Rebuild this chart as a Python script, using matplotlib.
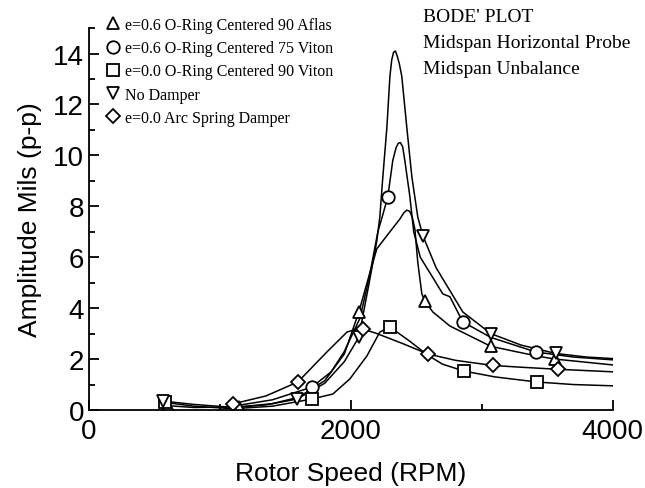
import matplotlib
matplotlib.use('Agg')
import matplotlib.pyplot as plt

# curve points (RPM, mils p-p)
aflas_x = [600, 800, 1145, 1400, 1600, 1800, 1950, 2061, 2140, 2198, 2298, 2374, 2405, 2427, 2450, 2470, 2489, 2511, 2542, 2565, 2626, 2756, 3069, 3420, 3560, 4000]
aflas_y = [0.17, 0.1, 0.12, 0.25, 0.5, 1.15, 2.2, 3.85, 5.3, 6.33, 7.0, 7.5, 7.75, 7.85, 7.8, 7.55, 7.1, 5.8, 4.56, 4.28, 3.85, 3.3, 2.5, 2.12, 2.0, 1.77]
aflas_mx = [600, 1145, 2061, 2565, 3069, 3560]
aflas_my = [0.17, 0.12, 3.85, 4.28, 2.5, 2.0]

viton75_x = [1100, 1400, 1702, 1850, 1950, 2069, 2140, 2206, 2240, 2282, 2320, 2345, 2362, 2378, 2395, 2412, 2450, 2480, 2530, 2626, 2702, 2756, 2855, 3069, 3412, 3700, 4000]
viton75_y = [0.15, 0.4, 0.9, 1.5, 2.3, 3.6, 5.2, 7.0, 7.6, 8.37, 9.8, 10.3, 10.48, 10.5, 10.35, 9.8, 8.4, 7.0, 6.0, 5.2, 4.56, 4.45, 3.46, 2.85, 2.28, 2.08, 1.97]
viton75_mx = [1702, 2282, 2855, 3412]
viton75_my = [0.9, 8.37, 3.46, 2.28]

viton90_x = [580, 800, 1100, 1400, 1702, 1863, 1992, 2122, 2221, 2298, 2450, 2588, 2700, 2863, 3100, 3420, 3700, 4000]
viton90_y = [0.3, 0.15, 0.05, 0.15, 0.43, 0.63, 1.22, 2.12, 3.06, 3.26, 2.7, 2.15, 1.8, 1.53, 1.3, 1.1, 1.0, 0.95]
viton90_mx = [580, 1702, 2298, 2863, 3420]
viton90_my = [0.3, 0.43, 3.26, 1.53, 1.1]

nodamp_x = [565, 800, 1100, 1350, 1588, 1800, 1950, 2060, 2140, 2198, 2221, 2244, 2275, 2298, 2312, 2326, 2340, 2354, 2370, 2389, 2427, 2466, 2511, 2550, 2650, 2702, 2855, 3069, 3300, 3565, 3800, 4000]
nodamp_y = [0.35, 0.22, 0.1, 0.2, 0.43, 1.05, 1.9, 2.85, 5.0, 6.64, 7.58, 9.15, 11.1, 13.1, 13.75, 14.05, 14.1, 13.9, 13.6, 13.1, 11.1, 9.15, 7.58, 6.84, 5.6, 5.15, 3.85, 3.0, 2.55, 2.22, 2.08, 2.02]
nodamp_mx = [565, 1588, 2060, 2550, 3069, 3565]
nodamp_my = [0.35, 0.43, 2.85, 6.84, 3.0, 2.22]

arc_x = [1099, 1350, 1595, 1817, 1970, 2046, 2092, 2200, 2400, 2588, 2800, 3084, 3300, 3580, 4000]
arc_y = [0.24, 0.55, 1.1, 2.28, 3.06, 3.18, 3.18, 3.0, 2.6, 2.2, 1.95, 1.75, 1.68, 1.6, 1.5]
arc_mx = [1099, 1595, 2092, 2588, 3084, 3580]
arc_my = [0.24, 1.1, 3.18, 2.2, 1.75, 1.6]

series = [
    (aflas_x, aflas_y, aflas_mx, aflas_my, '^', 'e=0.6 O-Ring Centered 90 Aflas'),
    (viton75_x, viton75_y, viton75_mx, viton75_my, 'o', 'e=0.6 O-Ring Centered 75 Viton'),
    (viton90_x, viton90_y, viton90_mx, viton90_my, 's', 'e=0.0 O-Ring Centered 90 Viton'),
    (nodamp_x, nodamp_y, nodamp_mx, nodamp_my, 'v', 'No Damper'),
    (arc_x, arc_y, arc_mx, arc_my, 'D', 'e=0.0 Arc Spring Damper'),
]

fig = plt.figure(figsize=(6.45, 4.89), dpi=100)
ax = fig.add_axes([0.138, 0.1595, 0.812, 0.781])

for cx, cy, mx, my, m, lab in series:
    ax.plot(cx, cy, color='black', lw=1.1)
for cx, cy, mx, my, m, lab in series:
    ms = 7.5 if m == 'D' else 9
    ax.plot(mx, my, ls='none', marker=m, ms=ms, mfc='white', mec='black', mew=1.3, label=lab)

ax.set_xlim(0, 4000)
ax.set_ylim(0, 15)
ax.set_xticks([0, 2000, 4000])
ax.set_xticks([1000, 3000], minor=True)
ax.set_yticks([0, 2, 4, 6, 8, 10, 12, 14])
ax.set_yticks(range(1, 16, 2), minor=True)
ax.tick_params(which='both', direction='in', width=1.3, labelsize=20)
ax.tick_params(which='major', length=7)
ax.tick_params(which='minor', length=4)
ax.tick_params(axis='x', pad=6)
for t in ax.get_xticklabels() + ax.get_yticklabels():
    t.set_fontfamily('Liberation Sans')
ax.spines['top'].set_visible(False)
ax.spines['right'].set_visible(False)
ax.spines['left'].set_linewidth(1.3)
ax.spines['bottom'].set_linewidth(1.3)

ax.set_xlabel('Rotor Speed (RPM)', fontsize=19, family='Liberation Sans', labelpad=12)
ax.set_ylabel('Amplitude Mils (p-p)', fontsize=19, family='Liberation Sans', labelpad=8)

ax.legend(loc='upper left', bbox_to_anchor=(99 / 645, 1 - 10 / 489), bbox_transform=fig.transFigure,
          frameon=False, handlelength=0.7, handletextpad=0.4, labelspacing=0.45, borderpad=0,
          prop={'family': 'Liberation Serif', 'size': 11.5})

fig.text(423 / 645, 1 - 17 / 489, "BODE' PLOT", family='Liberation Serif', fontsize=14, va='center')
fig.text(423 / 645, 1 - 43 / 489, 'Midspan Horizontal Probe', family='Liberation Serif', fontsize=14, va='center')
fig.text(423 / 645, 1 - 70 / 489, 'Midspan Unbalance', family='Liberation Serif', fontsize=14, va='center')

fig.savefig('out.png', dpi=100)
